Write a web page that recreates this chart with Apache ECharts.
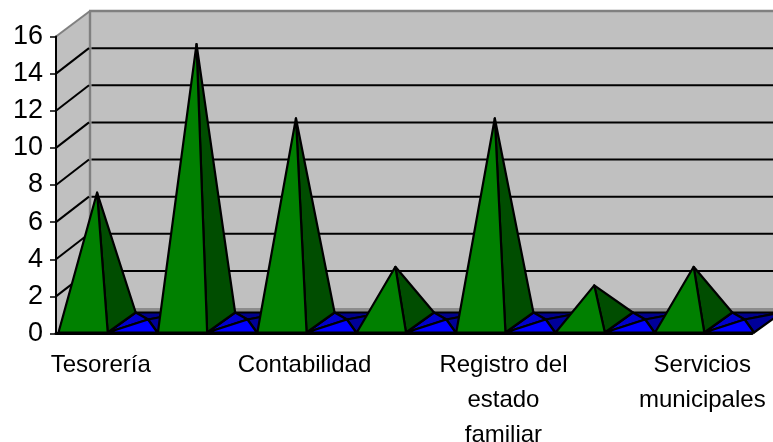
<!DOCTYPE html>
<html>
<head>
<meta charset="utf-8">
<style>html,body{margin:0;padding:0;background:#fff}#chart{width:773px;height:442px}</style>
<script src="https://cdn.jsdelivr.net/npm/echarts@6/dist/echarts.min.js"></script>
</head>
<body>
<div id="chart"></div>
<script>
// Departments along the horizontal axis; alternate names are left unprinted.
const categories = ['Tesorería', '', 'Contabilidad', '', 'Registro del\nestado\nfamiliar', '', 'Servicios\nmunicipales'];
const greenValues = [7, 15, 11, 3, 11, 2, 3];
const blueValues = [0, 0, 0, 0, 0, 0, 0];
const yTicks = [2, 4, 6, 8, 10, 12, 14];
const yMax = 16;
const yStep = 2;

// Oblique projection: how far the back of the box sits from its front.
const DEPTH_X = 34, DEPTH_Y = 25.5;
// Footprint of one pyramid in the depth direction.
const BASE_X = 28, BASE_Y = 20;

const LINE = '#000';
const WALL = '#c0c0c0', EDGE = '#808080', FLOOR = '#8c8c8c';
const LABEL_FONT = 'Liberation Sans';

function poly(points, fill, lineWidth) {
  return {
    type: 'polygon',
    shape: { points },
    style: { fill, stroke: LINE, lineWidth: lineWidth === undefined ? 2.2 : lineWidth, lineJoin: 'round' }
  };
}
function segment(x1, y1, x2, y2, stroke, lineWidth) {
  return { type: 'line', shape: { x1, y1, x2, y2 }, style: { stroke, lineWidth, lineCap: 'butt' } };
}

// Back wall, side wall and floor of the box.
function renderWalls(params, api) {
  const cs = params.coordSys;
  const l = cs.x, r = cs.x + cs.width;
  const top = api.coord([0, yMax])[1], bot = api.coord([0, 0])[1];
  const dx = DEPTH_X, dy = DEPTH_Y;
  const plain = (pts, fill) => ({ type: 'polygon', shape: { points: pts }, style: { fill } });
  return {
    type: 'group',
    children: [
      plain([[l + dx, top - dy], [r + dx, top - dy], [r + dx, bot - dy], [l + dx, bot - dy]], WALL),
      plain([[l, top], [l + dx, top - dy], [l + dx, bot - dy], [l, bot]], WALL),
      plain([[l, bot], [l + dx, bot - dy], [r + dx, bot - dy], [r, bot]], FLOOR),
      segment(l + dx, top - dy, l + dx, bot - dy, EDGE, 2.4),
      segment(l + dx - 1, top - dy, r + dx, top - dy, EDGE, 2.4),
      segment(l, top, l + dx, top - dy, EDGE, 2)
    ]
  };
}

// One gridline folded over the side wall and the back wall.
function renderGrid(params, api) {
  const cs = params.coordSys;
  const l = cs.x, r = cs.x + cs.width;
  const y = api.coord([0, api.value(1)])[1];
  return {
    type: 'group',
    children: [
      segment(l, y, l + DEPTH_X - 1, y - DEPTH_Y, LINE, 2),
      segment(l + DEPTH_X + 1.5, y - DEPTH_Y, r + DEPTH_X, y - DEPTH_Y, LINE, 2)
    ]
  };
}

// Footprint of the pyramid for one category slot: the slot is split into two halves.
function footprint(api, slotStart, slotEnd) {
  const c = api.coord([api.value(0), 0]);
  const band = api.size([1, 0])[0];
  const start = c[0] - band / 2;
  const y = c[1] - 1;
  return {
    fl: [start + band * slotStart, y],
    fr: [start + band * slotEnd, y],
    bl: [start + band * slotStart + BASE_X, y - BASE_Y],
    br: [start + band * slotEnd + BASE_X, y - BASE_Y]
  };
}

function renderGreen(params, api) {
  const f = footprint(api, 0.025, 0.52);
  const cx = (f.fl[0] + f.fr[0]) / 2 + BASE_X / 2;
  const h = api.coord([0, 0])[1] - api.coord([0, api.value(1)])[1];
  const apex = [cx, f.fl[1] - BASE_Y / 2 - h];
  return {
    type: 'group',
    children: [
      poly([f.fr, f.br, apex], '#004d00'),
      poly([f.fl, f.fr, apex], '#008000')
    ]
  };
}

// A zero-height pyramid is seen from above: four triangles meeting near the middle of the square.
function renderBlue(params, api) {
  const f = footprint(api, 0.52, 1.02);
  const h = api.coord([0, 0])[1] - api.coord([0, api.value(1)])[1];
  const c = [(f.fl[0] + f.fr[0]) / 2 + 15.5, f.fl[1] - 13 - h];
  return {
    type: 'group',
    children: [
      poly([f.bl, f.br, c], '#00008c'),
      poly([f.fr, f.br, c], '#000099'),
      poly([f.fl, f.bl, c], '#0000cc'),
      poly([f.fl, f.fr, c], '#0000ff')
    ]
  };
}

const chart = echarts.init(document.getElementById('chart'), null, { renderer: 'canvas' });
chart.setOption({
  animation: false,
  backgroundColor: '#fff',
  grid: { left: 56, right: 21, top: 36.5, bottom: 108.5, outerBoundsMode: 'none', containLabel: false },
  xAxis: {
    type: 'category',
    data: categories,
    z: 10,
    axisLine: { lineStyle: { color: '#000', width: 3 } },
    axisTick: { alignWithLabel: false, length: 7, lineStyle: { color: '#000', width: 1.5 } },
    axisLabel: {
      interval: 0,
      margin: 14,
      color: '#000',
      fontFamily: LABEL_FONT,
      fontSize: 24,
      lineHeight: 35,
      align: 'center',
      hideOverlap: false,
      // The first name sits a little left of its slot centre.
      formatter: v => v === categories[0] ? `{first|${v}}` : v,
      rich: { first: { fontFamily: LABEL_FONT, fontSize: 24, color: '#000', lineHeight: 35, padding: [0, 10, 0, 0] } }
    }
  },
  yAxis: {
    type: 'value',
    min: 0,
    max: yMax,
    interval: yStep,
    z: 10,
    splitLine: { show: false },
    axisLine: { show: true, lineStyle: { color: '#000', width: 2 } },
    axisTick: { show: true, length: 6, lineStyle: { color: '#000', width: 1.5 } },
    axisLabel: { margin: 13, color: '#000', fontFamily: LABEL_FONT, fontSize: 27 }
  },
  series: [
    { type: 'custom', name: 'walls', z: 1, clip: false, silent: true, renderItem: renderWalls, data: [[0, 0]], encode: { x: 0, y: 1 } },
    { type: 'custom', name: 'grid', z: 2, clip: false, silent: true, renderItem: renderGrid, data: yTicks.map(v => [0, v]), encode: { x: 0, y: 1 } },
    { type: 'custom', name: 'blue', z: 3, clip: false, silent: true, renderItem: renderBlue, data: blueValues.map((v, i) => [i, v]), encode: { x: 0, y: 1 } },
    { type: 'custom', name: 'green', z: 4, clip: false, silent: true, renderItem: renderGreen, data: greenValues.map((v, i) => [i, v]), encode: { x: 0, y: 1 } }
  ]
});
</script>
</body>
</html>
